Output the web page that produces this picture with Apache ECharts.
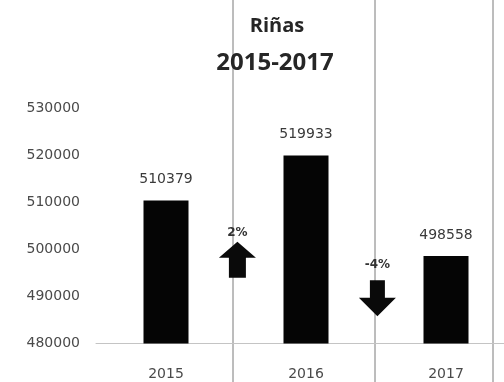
<!DOCTYPE html>
<html>
<head>
<meta charset="utf-8">
<script src="https://cdn.jsdelivr.net/npm/echarts@6/dist/echarts.min.js"></script>
<style>
  html, body { margin: 0; padding: 0; background: #fff; }
  #chart { width: 504px; height: 382px; }
</style>
</head>
<body>
<div id="chart"></div>
<script>
// Riñas por año
const years = ['2015', '2016', '2017'];
const rinas = [510379, 519933, 498558];
const yTicks = [480000, 490000, 500000, 510000, 520000, 530000];

// year-over-year change, rounded to whole percent
const changes = rinas.slice(1).map((v, i) => Math.round((v - rinas[i]) / rinas[i] * 100));

const UP = 'path://M18.5,0 L37,16 L27,16 L27,36 L10,36 L10,16 L0,16 Z';
const DOWN = 'path://M11,0 L26,0 L26,18 L37,18 L18.5,37 L0,18 L11,18 Z';
// vertical level (in data units) where each change arrow sits
const arrowLevel = [497800, 489600];

const chart = echarts.init(document.getElementById('chart'), null, { renderer: 'canvas' });

const labelFont = { fontFamily: 'DejaVu Sans', fontSize: 14, color: '#4a4a4a' };

chart.setOption({
  animation: false,
  backgroundColor: '#ffffff',
  title: [
    {
      text: 'Riñas', left: 272, top: 11, textAlign: 'center',
      textStyle: { fontFamily: 'Open Sans', fontWeight: 'bold', fontSize: 20, color: '#262626' }
    },
    {
      text: '2015-2017', left: 270, top: 46, textAlign: 'center',
      textStyle: { fontFamily: 'Open Sans', fontWeight: 'bold', fontSize: 24, color: '#262626' }
    }
  ],
  graphic: [233, 375, 493].map(x => ({
    type: 'line', silent: true, z: 0,
    shape: { x1: x, y1: 0, x2: x, y2: 382 },
    style: { stroke: '#7a7a7a', lineWidth: 1 }
  })),
  grid: {
    left: 96, width: 420, top: 108, bottom: 38.5,
    containLabel: false, outerBoundsMode: 'none'
  },
  xAxis: [
    {
      type: 'category', data: years,
      axisLine: { show: true, lineStyle: { color: '#c4c4c4', width: 1 } },
      axisTick: { show: false },
      axisLabel: Object.assign({ margin: 24 }, labelFont)
    },
    { type: 'value', min: 0, max: 3, show: false }
  ],
  yAxis: {
    type: 'value', min: yTicks[0], max: yTicks[yTicks.length - 1], interval: 10000,
    axisLine: { show: false }, axisTick: { show: false },
    splitLine: { show: false },
    axisLabel: Object.assign({ margin: 16, formatter: v => String(v) }, labelFont)
  },
  series: [
    {
      type: 'bar', data: rinas, barWidth: 45, xAxisIndex: 0,
      itemStyle: { color: '#050505' },
      label: {
        show: true, position: 'top', distance: 14,
        fontFamily: 'DejaVu Sans', fontSize: 14, color: '#3a3a3a'
      }
    },
    {
      type: 'scatter', xAxisIndex: 1, z: 5,
      data: changes.map((c, i) => ({
        value: [i + 1.01, arrowLevel[i]],
        symbol: c >= 0 ? UP : DOWN,
        symbolSize: [37, 36],
        label: { distance: c >= 0 ? 3 : 9 }
      })),
      itemStyle: { color: '#0a0a0a', opacity: 1 },
      label: {
        show: true, position: 'top',
        formatter: p => changes[p.dataIndex] + '%',
        fontFamily: 'DejaVu Sans', fontWeight: 'bold', fontSize: 12, color: '#333'
      }
    }
  ]
});
</script>
</body>
</html>
